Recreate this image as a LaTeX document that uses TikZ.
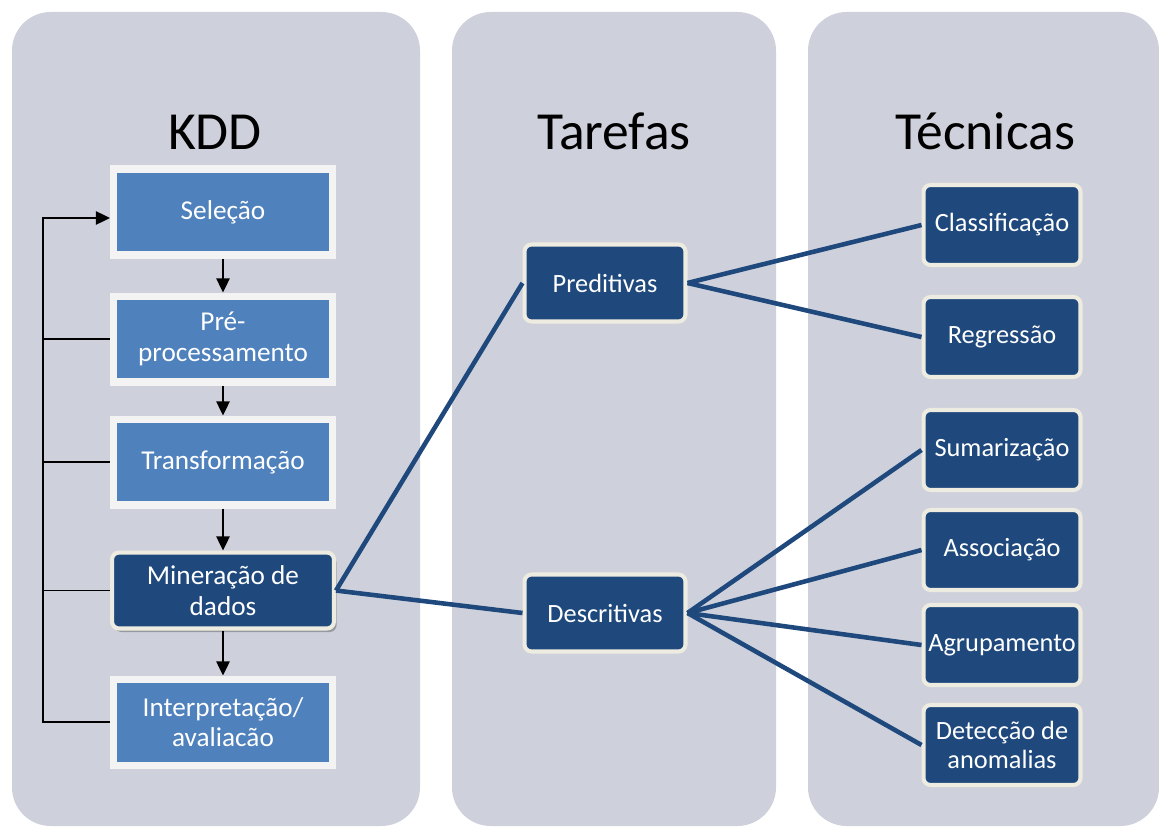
\documentclass[tikz,border=0pt]{standalone}
\usepackage{fontspec}
\setmainfont{Carlito}
\usepackage{tikz}
\usetikzlibrary{positioning}
\usetikzlibrary{arrows.meta}
\usetikzlibrary{shadows}
\definecolor{panelgray}{RGB}{206,209,219}
\definecolor{lightblue}{RGB}{79,129,189}
\definecolor{darkblue}{RGB}{31,73,125}
\definecolor{cream}{RGB}{238,236,225}
\definecolor{boxwhite}{RGB}{243,243,243}
\tikzset{kdd node/.style={rectangle,fill=lightblue,draw=boxwhite,line width=4pt,minimum width=4.38cm,minimum height=1.72cm,inner sep=2pt,text=white,align=center,font=\fontsize{15.5}{17.5}\selectfont,drop shadow={shadow xshift=1.5pt,shadow yshift=-2pt,opacity=0.35,fill=black!80}},
task node/.style={rectangle,rounded corners=4pt,fill=darkblue,draw=cream,line width=2.3pt,minimum width=3.14cm,minimum height=1.6cm,inner sep=1pt,text=white,align=center,font=\fontsize{15}{17}\selectfont},
panel/.style={fill=panelgray,rounded corners=22pt},
head text/.style={font=\fontsize{30.5}{34}\selectfont,anchor=base},
task link/.style={draw=darkblue,line width=2.6pt},
back line/.style={draw=black,line width=1.1pt},}

\begin{document}
\begin{tikzpicture}[x=0.02cm, y=-0.02cm, >={Triangle[length=8pt,width=7.5pt]}, semithick]
	\useasboundingbox (0,0) rectangle (1159,828);
	% panels
	\fill[panel] (12,12) rectangle (420,826);
	\fill[panel] (452,12) rectangle (776,826);
	\fill[panel] (808,12) rectangle (1159,826);

	\node[head text] (kddt) at (215,150) {KDD};
	\node[head text] (tart) at (614,150) {Tarefas};
	\node[head text] (tect) at (985,150) {Técnicas};

	% KDD
	\node[kdd node] (sel) at (223,212) {Seleção};
	\node[kdd node] (pre) [below = 0.68cm of sel] {Pré-\\processamento};
	\node[kdd node] (tra) [below = 0.6cm of pre] {Transformação};
	\node[task node, font=\fontsize{15.5}{17.5}\selectfont, minimum width=4.44cm, minimum height=1.52cm, drop shadow={shadow xshift=1.5pt,shadow yshift=-2pt,opacity=0.35,fill=black!80}] (min) [below = 0.84cm of tra] {Mineração de\\dados};
	\node[kdd node] (int) [below = 0.9cm of min] {Interpretação/\\avaliacão};

	% tarefas
	\node[task node, minimum width=3.22cm, minimum height=1.54cm] (pred) at (605,283) {Preditivas};
	\node[task node, minimum width=3.22cm, minimum height=1.54cm] (desc) at (605,613) {Descritivas};

	% tecnicas
	\node[task node] (cla) at (1002,225) {Classificação};
	\node[task node] (reg) at (1002,337) {Regressão};
	\node[task node] (sum) at (1002,450) {Sumarização};
	\node[task node] (ass) at (1002,550) {Associação};
	\node[task node] (agr) at (1002,645) {Agrupamento};
	\node[task node] (det) at (1002,745) {Detecção de\\anomalias};

	\draw[back line, ->] (sel) -- (pre);
	\draw[back line, ->] (pre) -- (tra);
	\draw[back line, ->] (tra) -- (min);
	\draw[back line, ->] (min) -- (int);

	\coordinate (corner) at (43,218);
	\draw[back line, ->] (int.west) -| (corner) -- (sel.west |- corner);
	\draw[back line] (pre.west) -- (pre.west -| corner);
	\draw[back line] (tra.west) -- (tra.west -| corner);
	\draw[back line] (min.west) -- (min.west -| corner);

	\path[task link]
	(min.east) edge (pred.west)
	(min.east) edge (desc.west)
	(pred.east) edge (cla.west)
	(pred.east) edge (reg.west)
	(desc.east) edge (sum.west)
	(desc.east) edge (ass.west)
	(desc.east) edge (agr.west)
	(desc.east) edge (det.west);
\end{tikzpicture}
\end{document}
